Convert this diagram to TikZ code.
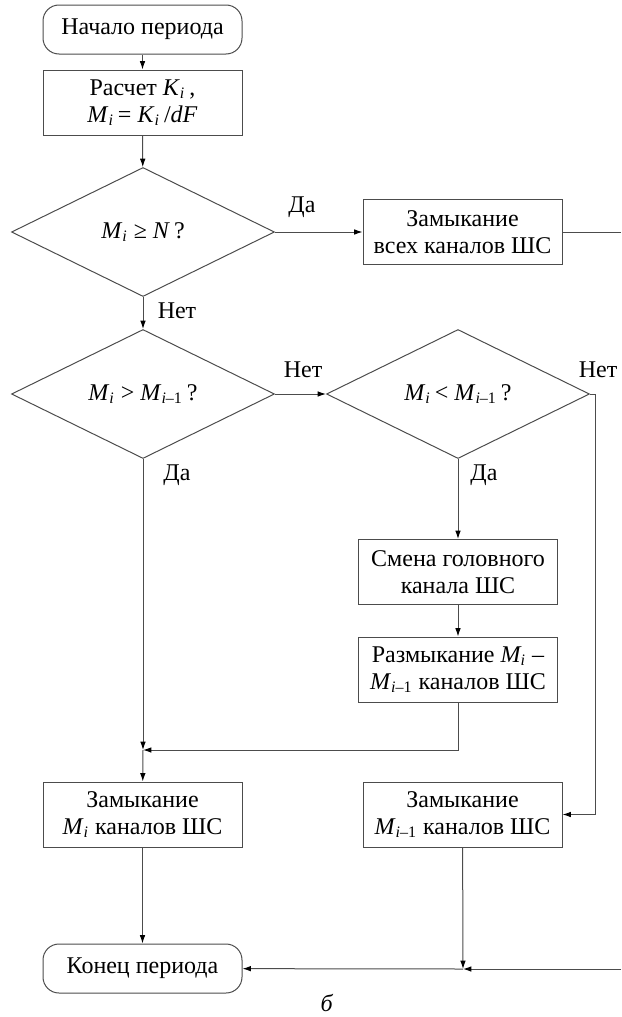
\documentclass[tikz,border=0pt]{standalone}
\usepackage{fontspec}
\setmainfont{Liberation Serif}
\usetikzlibrary{shapes.geometric,arrows.meta}

\newcommand{\indx}[1]{\textsubscript{\textit{#1}}}
\newcommand{\Mi}{\textit{M}\indx{i}}
\newcommand{\Mim}{\textit{M}\textsubscript{\textit{i}–1}}

\begin{document}
\begin{tikzpicture}[x=0.5pt,y=-0.5pt,
  texte/.style={font=\fontsize{12pt}{13.5pt}\selectfont},
  bloc/.style={texte, draw=black!70, line width=0.5pt, align=center,
    minimum width=99.5pt, minimum height=32.5pt, inner sep=1pt},
  terminal/.style={bloc, rounded corners=8pt, minimum height=24.5pt},
  test/.style={texte, draw=black!70, line width=0.5pt, diamond, inner sep=0pt,
    minimum width=131.5pt, minimum height=64.5pt},
  etiq/.style={texte, inner sep=0pt},
  fleche/.style={draw=black!70, line width=0.5pt,
    -{Latex[length=4.2pt,width=2.8pt,color=black]}}]

  % Cadre
  \useasboundingbox (0,0) rectangle (621,1017);

  % Colonne de gauche
  \node[terminal] (debut) at (142.5,29.5) {Начало периода};
  \node[bloc] (calcul) at (142.5,102.5) {Расчет \textit{K}\indx{i}\,,\\ \Mi\,= \textit{K}\indx{i}\,/\textit{dF}};
  \node[test] (t1) at (143,232) {\Mi\ ≥ \textit{N}\,?};
  \node[test] (t2) at (143,394) {\Mi\ > \Mim\,?};
  \node[bloc] (zamL) at (142.5,814.5) {Замыкание\\ \Mi\ каналов ШС};
  \node[terminal] (fin) at (142.5,968.5) {Конец периода};

  % Colonne de droite
  \node[bloc] (zamTous) at (462.5,232) {Замыкание\\ всех каналов ШС};
  \node[test] (t3) at (458,394) {\Mi\,< \Mim\,?};
  \node[bloc] (smena) at (458,572) {Смена головного\\ канала ШС};
  \node[bloc] (razm) at (458,669.5) {Размыкание \textit{M}\textsubscript{\kern-0.5pt\textit{i}} –\\ \Mim\ каналов ШС};
  \node[bloc] (zamR) at (462.5,814.5) {Замыкание\\ \Mim\ каналов ШС};

  % Points de jonction
  \coordinate (bordA) at (621,232);
  \coordinate (coude) at (595,394);
  \coordinate (j1) at (143,750);
  \coordinate (j2) at (463,969);
  \coordinate (bordB) at (621,969);

  % Liaisons
  \draw[fleche] (debut) -- (calcul);
  \draw[fleche] (calcul) -- (t1);
  \draw[fleche] (t1.east) -- (zamTous);
  \draw[draw=black!70, line width=0.5pt] (zamTous.east) -- (bordA);
  \draw[fleche] (t1.south) -- (t2.north);
  \draw[fleche] (t2.east) -- (t3.west);
  \draw[fleche] (t3.south) -- (smena);
  \draw[fleche] (smena) -- (razm);
  \draw[fleche] (t2.south) -- (j1);
  \draw[fleche] (razm.south) |- (j1);
  \draw[fleche] (j1) -- (zamL);
  \draw[fleche] (t3.east) -- (coude) |- (zamR.east);
  \draw[fleche] (zamL) -- (fin);
  \draw[fleche] (zamR) -- (j2);
  \draw[fleche] (bordB) -- (j2);
  \draw[fleche] (j2) -- (fin);

  % Etiquettes
  \node[etiq] (da1) at (302,207) {Да};
  \node[etiq] (net1) at (177,311) {Нет};
  \node[etiq] (net2) at (303,370) {Нет};
  \node[etiq] (net3) at (598,370) {Нет};
  \node[etiq] (da2) at (177,475) {Да};
  \node[etiq] (da3) at (484,475) {Да};
  \node[etiq] (legende) at (327,1003) {\textit{б}};

\end{tikzpicture}
\end{document}
